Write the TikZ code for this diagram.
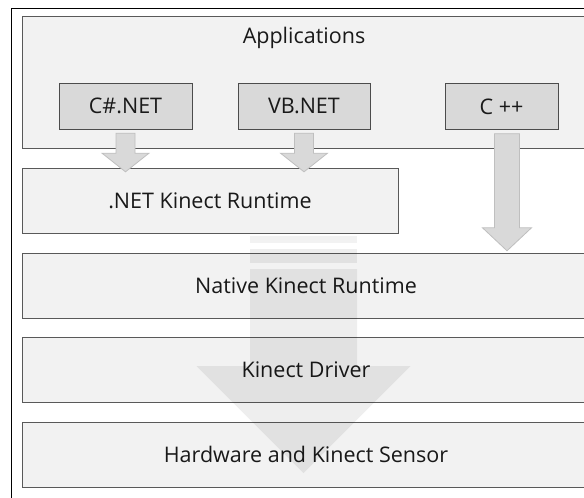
\documentclass[tikz,border=0pt]{standalone}
\usepackage{fontspec}
\setmainfont{Open Sans}
\usetikzlibrary{calc}

\tikzset{
	layer/.style={draw=black!65,fill=black!5,inner sep=0pt,minimum height=65pt,text=black!90,font=\fontsize{21.5}{25}\selectfont},
	lang/.style={draw=black!70,fill=black!15,inner sep=0pt,minimum height=46pt,text=black!90,font=\fontsize{21.5}{25}\selectfont},
	flow/.style={fill=black!15,draw=black!25,line width=0.8pt},
	bigflow/.style={fill=black,fill opacity=0.065,draw=none}
}

\begin{document}
\begin{tikzpicture}[x=1pt,y=-1pt]
	\useasboundingbox (0,0) rectangle (584,498);
	% frame
	\draw[line width=1pt] (11,510) -- (11,8) -- (600,8);
	% layers
	\node[layer,minimum width=568pt,minimum height=132pt] (apps) at (306,82) {};
	\node[text=black!90,font=\fontsize{21.5}{25}\selectfont] (appstitle) at (304,38) {Applications};
	\node[lang,minimum width=133pt] (csharp) at (125.5,106) {C\#.NET};
	\node[lang,minimum width=132pt] (vbnet) at (304,106) {VB.NET};
	\node[lang,minimum width=113pt] (cpp) at (501.5,106.5) {C ++};
	\node[layer,minimum width=376pt] (dotnet) at (210,200.5) {.NET Kinect Runtime};
	\node[layer,minimum width=568pt] (native) at (306,285.5) {Native Kinect Runtime};
	\node[layer,minimum width=568pt] (driver) at (306,370) {Kinect Driver};
	\node[layer,minimum width=568pt] (hardware) at (306,454.5) {Hardware and Kinect Sensor};
	% managed apps into .NET runtime
	\foreach \src in {csharp,vbnet}
	\draw[flow] ($(\src.south)+(-9.5,4)$) -- ($(\src.south)+(9.5,4)$) -- ($(\src.south)+(9.5,24)$)
		-- ($(\src.south)+(23.5,24)$) -- ($(\src.south |- dotnet.north)+(0,4)$)
		-- ($(\src.south)+(-23.5,24)$) -- ($(\src.south)+(-9.5,24)$) -- cycle;
	% C++ straight to native runtime
	\coordinate (cppout) at ($(cpp.south)+(5.5,0)$);
	\draw[flow] ($(cppout)+(-12.5,4)$) -- ($(cppout)+(12.5,4)$) -- ($(cppout |- native.north)+(12.5,-25)$)
		-- ($(cppout |- native.north)+(24.5,-25)$) -- ($(cppout |- native.north)+(0,-2)$)
		-- ($(cppout |- native.north)+(-24.5,-25)$) -- ($(cppout |- native.north)+(-12.5,-25)$) -- cycle;
	% big arrow down the stack
	\fill[bigflow,fill opacity=0.05] (250,236) rectangle (357,243);
	\fill[bigflow] (250,249) rectangle (357,263);
	\fill[bigflow] (250,269) -- (357,269) -- (357,366) -- (410.5,366) -- (303.5,473)
		-- (196.5,366) -- (250,366) -- cycle;
\end{tikzpicture}
\end{document}
